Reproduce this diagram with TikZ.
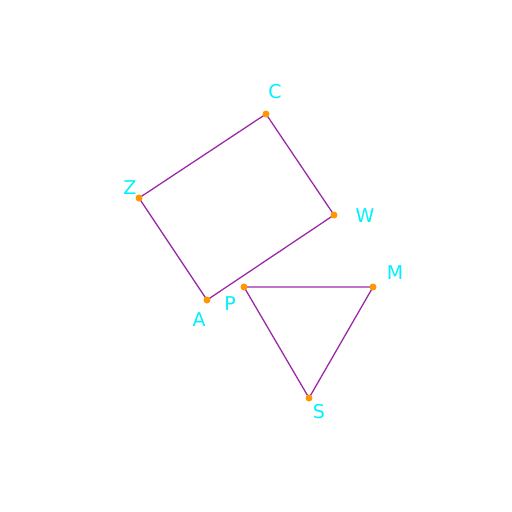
\documentclass[tikz,border=0pt]{standalone}
\usepackage{fontspec}
\setmainfont{DejaVu Sans}
\definecolor{edgec}{HTML}{9C2AA8}
\definecolor{dotc}{HTML}{FF9800}
\definecolor{labc}{HTML}{00F0FF}
\tikzset{
  edge/.style={draw=edgec, line width=1.3pt},
  pt/.style={circle, fill=dotc, inner sep=0pt, minimum size=7pt},
  lab/.style={text=labc, font=\fontsize{19}{19}\selectfont, inner sep=0pt}
}
\begin{document}
\begin{tikzpicture}[x=1pt,y=-1pt]
\useasboundingbox (0,0) rectangle (512,512);
\coordinate (C) at (266,114);
\coordinate (W) at (334,215);
\coordinate (A) at (207,300);
\coordinate (Z) at (139,198);
\coordinate (P) at (244,287);
\coordinate (M) at (373,287);
\coordinate (S) at (309,398);
\draw[edge] (C) -- (W) -- (A) -- (Z) -- cycle;
\draw[edge] (P) -- (M) -- (S) -- cycle;
\foreach \p in {C,W,A,Z,P,M,S} \node[pt] (d\p) at (\p) {};
\node[lab] (lC) at (275,92) {C};
\node[lab] (lZ) at (130,188) {Z};
\node[lab] (lW) at (365,216) {W};
\node[lab] (lA) at (199,320) {A};
\node[lab] (lP) at (230,304) {P};
\node[lab] (lM) at (395,273) {M};
\node[lab] (lS) at (319,412) {S};
\end{tikzpicture}
\end{document}
